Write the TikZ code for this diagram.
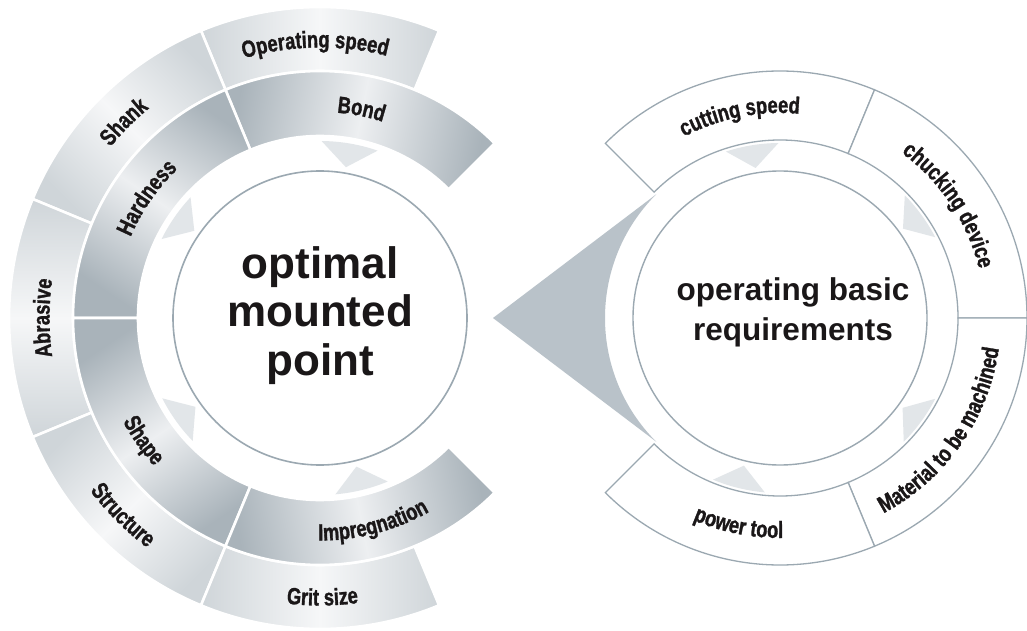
\documentclass[tikz,border=0pt]{standalone}
\usepackage{fontspec}
\setmainfont{Liberation Sans}
\newfontfamily\condfont[FakeStretch=0.78, BoldFeatures={FakeBold=1.2}]{Liberation Sans}
\usetikzlibrary{decorations.text}
\definecolor{linegray}{HTML}{9BA8B1}
\definecolor{trifill}{HTML}{E2E6E9}
\definecolor{bigtri}{HTML}{B9C2C9}
\definecolor{outedge}{HTML}{CFD5D9}
\definecolor{outmid}{HTML}{F6F7F8}
\definecolor{inedge}{HTML}{A9B3BA}
\definecolor{inmid}{HTML}{EDEFF1}
\definecolor{txt}{HTML}{1A1718}
\newcommand\ringseg[4]{(#3:#1) arc[start angle=#3,end angle=#4,radius=#1] -- (#4:#2) arc[start angle=#4,end angle=#3,radius=#2] -- cycle}
\newcommand\marker[4]{(#1:#3) arc[start angle=#1,end angle=#2,radius=#3] -- ({(#1+#2)/2}:#4) -- cycle}
\newcommand\lbl{\condfont\bfseries\fontsize{23.5}{23.5}\selectfont\color{txt}}
\newcommand\rlbl{\condfont\bfseries\fontsize{23.5}{23.5}\selectfont\color{txt}}
\tikzset{
  outseg/.style={left color=outedge, right color=outedge, middle color=outmid, shading angle=#1, draw=white, line width=2.6pt},
  inseg/.style={left color=inedge, right color=inedge, middle color=inmid, shading angle=#1, draw=white, line width=2.6pt},
  rseg/.style={draw=linegray, line width=1.3pt, fill=white},
  markfill/.style={fill=trifill},
  ring/.style={draw=linegray, line width=1.6pt, fill=white},
  arclabel/.style={decorate, decoration={text along path, text align=center, text={|\lbl|#1}}},
  rarclabel/.style={decorate, decoration={text along path, text align=center, text={|\rlbl|#1}}},
}
\begin{document}
\begin{tikzpicture}[x=1pt,y=1pt]
\useasboundingbox (0,0) rectangle (1027,630);
\fill[white] (0,0) rectangle (1027,630);
% ---------------- left circle ----------------
\begin{scope}[shift={(320,312)}]
  \shadedraw[outseg=90]  \ringseg{247}{311}{67.5}{112.5};
  \shadedraw[outseg=135] \ringseg{247}{311}{112.5}{157.5};
  \shadedraw[outseg=180] \ringseg{247}{311}{157.5}{202.5};
  \shadedraw[outseg=225] \ringseg{247}{311}{202.5}{247.5};
  \shadedraw[outseg=270] \ringseg{247}{311}{247.5}{292.5};
  \shadedraw[inseg=79]   \ringseg{182}{247}{45}{112.5};
  \shadedraw[inseg=146]  \ringseg{182}{247}{112.5}{180};
  \shadedraw[inseg=214]  \ringseg{182}{247}{180}{247.5};
  \shadedraw[inseg=281]  \ringseg{182}{247}{247.5}{315};
  \path[arclabel={Operating speed}] (113.5:270.5) arc[start angle=113.5,end angle=68.5,radius=270.5];
  \path[arclabel={Shank}] (157.5:270.5) arc[start angle=157.5,end angle=112.5,radius=270.5];
  \path[arclabel={Abrasive}] (202.5:270.5) arc[start angle=202.5,end angle=157.5,radius=270.5];
  \path[arclabel={Structure}] (202.5:287.5) arc[start angle=202.5,end angle=247.5,radius=287.5];
  \path[arclabel={Grit size}] (248:287.5) arc[start angle=248,end angle=293,radius=287.5];
  \path[arclabel={Bond}] (112.5:206) arc[start angle=112.5,end angle=45,radius=206];
  \path[arclabel={Hardness}] (180:206) arc[start angle=180,end angle=110.5,radius=206];
  \path[arclabel={Shape}] (181:222.5) arc[start angle=181,end angle=248.5,radius=222.5];
  \path[arclabel={Impregnation}] (251:222.5) arc[start angle=251,end angle=318,radius=222.5];
  \fill[markfill] \marker{71}{89.5}{177}{153};
  \fill[markfill] \marker{137}{153.5}{177}{153};
  \fill[markfill] \marker{207}{224}{177}{153};
  \fill[markfill] \marker{275}{292.5}{177}{153};
  \draw[ring] (0,0) circle[radius=147];
  \node[font=\bfseries\fontsize{44}{48.5}\selectfont, text=txt, align=center] (lefttitle) at (0,2.5) {optimal\\mounted\\point};
\end{scope}
% ---------------- connector wedge ----------------
\coordinate (tip) at (493,312);
\begin{scope}[shift={(780,312)}]
  \fill[bigtri] (tip) -- (135:175) arc[start angle=135,end angle=225,radius=175] -- cycle;
  \draw[rseg] \ringseg{178}{247}{67.5}{135};
  \draw[rseg] \ringseg{178}{247}{0}{67.5};
  \draw[rseg] \ringseg{178}{247}{-67.5}{0};
  \draw[rseg] \ringseg{178}{247}{-135}{-67.5};
  \path[rarclabel={cutting speed}] (135:205) arc[start angle=135,end angle=67.5,radius=205];
  \path[rarclabel={chucking device}] (67.5:205) arc[start angle=67.5,end angle=0,radius=205];
  \path[rarclabel={Material to be machined}] (-69:221) arc[start angle=-69,end angle=-1,radius=221];
  \path[rarclabel={power tool}] (-135:220) arc[start angle=-135,end angle=-67.5,radius=220];
  \fill[markfill] \marker{90.5}{108}{175}{152};
  \fill[markfill] \marker{27.5}{44.5}{175}{152};
  \fill[markfill] \marker{-45}{-27.5}{175}{152};
  \fill[markfill] \marker{247.5}{265}{175}{152};
  \draw[ring, line width=1.4pt] (0,0) circle[radius=147];
  \node[font=\bfseries\fontsize{31.5}{40}\selectfont, text=txt, align=center] (righttitle) at (13,5.5) {operating basic\\requirements};
\end{scope}
\end{tikzpicture}
\end{document}
